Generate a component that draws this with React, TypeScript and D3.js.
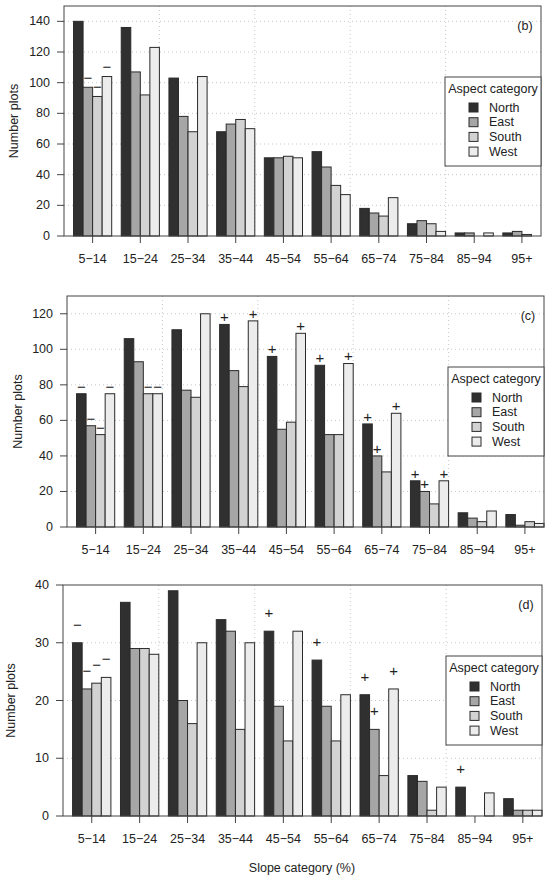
import React from "react";
import * as d3 from "d3";

// slope categories and aspect groups
const categories = ["5−14", "15−24", "25−34", "35−44", "45−54", "55−64", "65−74", "75−84", "85−94", "95+"];
const aspects = ["North", "East", "South", "West"];
const fills = ["#303030", "#a6a6a6", "#d2d2d2", "#ececec"];

// number of plots, one row per slope category (N, E, S, W)
const valuesB = [
	[140, 97, 91, 104], [136, 107, 92, 123], [103, 78, 68, 104], [68, 73, 76, 70], [51, 51, 52, 51],
	[55, 45, 33, 27], [18, 15, 13, 25], [8, 10, 8, 3], [2, 2, 0, 2], [2, 3, 1, 0],
];
const valuesC = [
	[75, 57, 52, 75], [106, 93, 75, 75], [111, 77, 73, 120], [114, 88, 79, 116], [96, 55, 59, 109],
	[91, 52, 52, 92], [58, 40, 31, 64], [26, 20, 13, 26], [8, 5, 3, 9], [7, 1, 3, 2],
];
const valuesD = [
	[30, 22, 23, 24], [37, 29, 29, 28], [39, 20, 16, 30], [34, 32, 15, 30], [32, 19, 13, 32],
	[27, 19, 13, 21], [21, 15, 7, 22], [7, 6, 1, 5], [5, 0, 0, 4], [3, 1, 1, 1],
];

// significance signs above bars
const signsB = [
	["", "−", "−", "−"], ["", "", "", ""], ["", "", "", ""], ["", "", "", ""], ["", "", "", ""],
	["", "", "", ""], ["", "", "", ""], ["", "", "", ""], ["", "", "", ""], ["", "", "", ""],
];
const signsC = [
	["−", "−", "−", "−"], ["", "", "−", "−"], ["", "", "", ""], ["+", "", "", "+"], ["+", "", "", "+"],
	["+", "", "", "+"], ["+", "+", "", "+"], ["+", "+", "", "+"], ["", "", "", ""], ["", "", "", ""],
];
const signsD = [
	["−", "−", "−", "−"], ["", "", "", ""], ["", "", "", ""], ["", "", "", ""], ["+", "", "", ""],
	["+", "", "", ""], ["+", "+", "", "+"], ["", "", "", ""], ["+", "", "", ""], ["", "", "", ""],
];

const font = "'Liberation Sans', Arial, Helvetica, sans-serif";
const fs = 12.5;
const sfs = 15;
const ink = "#222";

function Panel({ tag, values, signs, ymax, left, right, top, bottom, signOffset, ylabX }) {
	const x = d3.scaleBand().domain(categories).range([left, right]).paddingInner(0.2).paddingOuter(0.1).align(1);
	const xs = d3.scaleBand().domain(aspects).range([0, x.bandwidth()]);
	const xu = d3.scaleLinear().domain([0, 50]).range([left, right]);
	const y = d3.scaleLinear().domain([0, ymax]).range([bottom, top]);
	const yt = y.ticks(ymax > 100 ? 8 : 4).filter((t) => t <= ymax);
	const lx = right - 96;
	const ly = top + 71;
	return (
		<g>
			{yt.filter((t) => t > 0 && y(t) > top + 1).map((t) => (
				<line key={"h" + t} x1={left} x2={right} y1={y(t)} y2={y(t)} stroke="#c8c8c8" strokeDasharray="1,3" />
			))}
			{[10, 20, 30, 40].map((t) => (
				<line key={"v" + t} x1={xu(t)} x2={xu(t)} y1={top} y2={bottom} stroke="#c8c8c8" strokeDasharray="1,3" />
			))}
			{categories.map((c, i) => (
				<g key={c}>
					{aspects.map((a, j) => (
						<rect key={a} x={x(c) + xs(a)} width={xs.bandwidth()} y={y(values[i][j])}
							height={bottom - y(values[i][j])} fill={fills[j]} stroke="#2a2a2a" strokeWidth={1} />
					))}
					{aspects.map((a, j) => signs[i][j] ? (
						<text key={"s" + a} x={x(c) + xs(a) + xs.bandwidth() / 2} y={y(values[i][j]) - signOffset + 0.33 * sfs}
							textAnchor="middle" fontSize={sfs} fill={ink}>{signs[i][j]}</text>
					) : null)}
					<line x1={x(c) + x.bandwidth() / 2} x2={x(c) + x.bandwidth() / 2} y1={bottom} y2={bottom + 7} stroke="#444" />
					<text x={x(c) + x.bandwidth() / 2} y={bottom + 22.5} dominantBaseline="central" textAnchor="middle"
						fontSize={fs} fill={ink}>{c}</text>
				</g>
			))}
			<rect x={left} y={top} width={right - left} height={bottom - top} fill="none" stroke="#444" />
			{yt.map((t) => (
				<g key={"y" + t}>
					<line x1={left - 7} x2={left} y1={y(t)} y2={y(t)} stroke="#444" />
					<text x={left - 14} y={y(t)} dominantBaseline="central" textAnchor="end" fontSize={fs} fill={ink}>{t}</text>
				</g>
			))}
			<text transform={`translate(${ylabX},${(top + bottom) / 2}) rotate(-90)`} textAnchor="middle"
				dominantBaseline="central" fontSize={fs} fill={ink}>Number plots</text>
			<text x={right - 16} y={top + 20} textAnchor="middle" dominantBaseline="central" fontSize={fs} fill={ink}>{tag}</text>
			<rect x={lx} y={ly} width={right - lx} height={89} fill="white" stroke="#444" />
			<text x={lx + 48} y={ly + 12} textAnchor="middle" dominantBaseline="central" fontSize={fs} fill={ink}>Aspect category</text>
			{aspects.map((a, j) => (
				<g key={"l" + a}>
					<rect x={right - 72} y={ly + 30.5 + j * 14.7 - 4.5} width={9} height={9} fill={fills[j]} stroke="#2a2a2a" />
					<text x={right - 52} y={ly + 30.5 + j * 14.7} dominantBaseline="central" fontSize={fs} fill={ink}>{a}</text>
				</g>
			))}
		</g>
	);
}

export default function App() {
	return (
		<svg width={550} height={881} style={{ position: "absolute", left: 0, top: 0, background: "white" }} fontFamily={font}>
			<Panel tag="(b)" values={valuesB} signs={signsB} ymax={150} left={64} right={541} top={6} bottom={236} signOffset={9} ylabX={14} />
			<Panel tag="(c)" values={valuesC} signs={signsC} ymax={130} left={67} right={544} top={296} bottom={527} signOffset={7} ylabX={18} />
			<Panel tag="(d)" values={valuesD} signs={signsD} ymax={40} left={63} right={542} top={585} bottom={816} signOffset={18} ylabX={10.5} />
			<text x={302} y={868} textAnchor="middle" dominantBaseline="central" fontSize={fs} fill={ink}>Slope category (%)</text>
		</svg>
	);
}
